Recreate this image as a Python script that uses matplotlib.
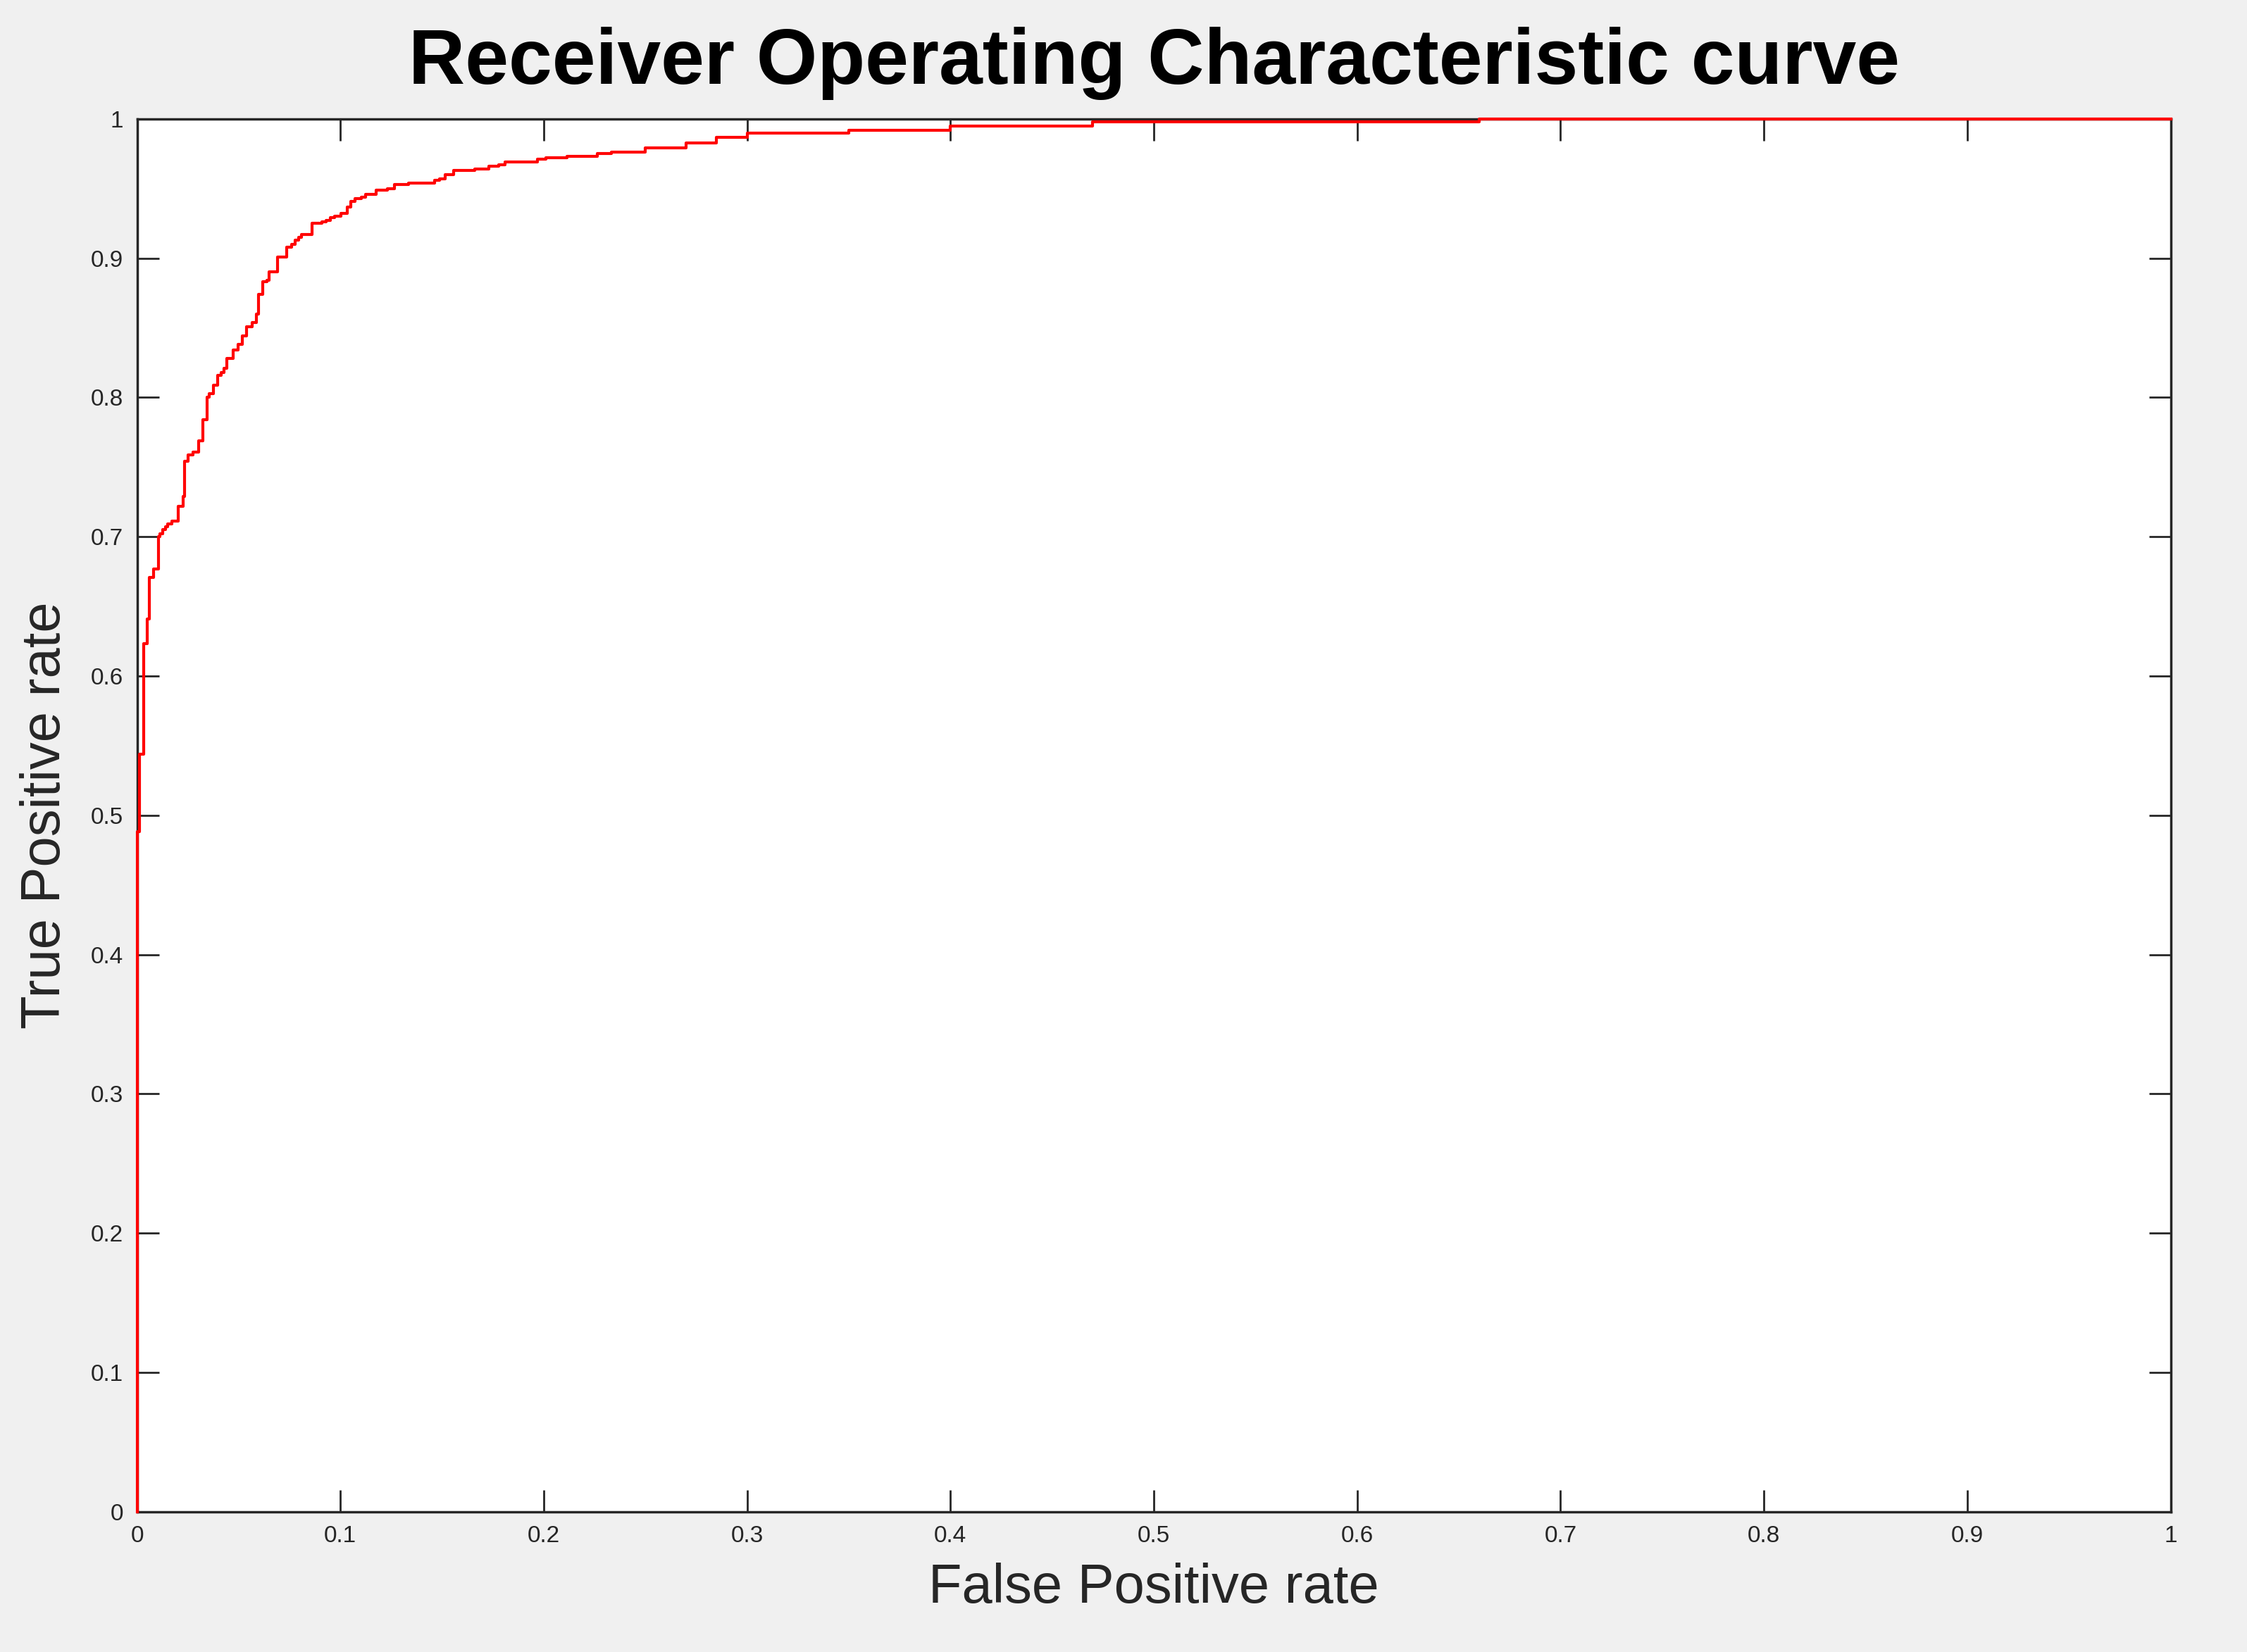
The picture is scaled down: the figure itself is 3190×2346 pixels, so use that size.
import matplotlib
matplotlib.use("Agg")
import matplotlib.pyplot as plt

# ROC curve points (step curve)
fpr = [0.0, 0.0, 0.0012, 0.0031, 0.0051, 0.0062, 0.0082, 0.0104, 0.0113, 0.0125,
       0.0141, 0.0152, 0.0172, 0.0203, 0.0225, 0.0234, 0.0252, 0.0276, 0.0303,
       0.0324, 0.0346, 0.0355, 0.0377, 0.0395, 0.0415, 0.0426, 0.0443, 0.0474,
       0.0496, 0.0516, 0.0538, 0.0567, 0.0586, 0.0598, 0.0617, 0.0640, 0.0648,
       0.0690, 0.0737, 0.0759, 0.0779, 0.0795, 0.0809, 0.0860, 0.0910, 0.0930,
       0.0950, 0.0970, 0.1002, 0.1032, 0.1050, 0.1072, 0.1102, 0.1123, 0.1174,
       0.1232, 0.1264, 0.1334, 0.1464, 0.1489, 0.1515, 0.1557, 0.1659, 0.1729,
       0.1780, 0.1811, 0.1969, 0.2011, 0.2113, 0.2263, 0.2331, 0.25, 0.27,
       0.285, 0.30, 0.35, 0.40, 0.47, 0.66, 1.0]
tpr = [0.0, 0.488, 0.544, 0.623, 0.641, 0.671, 0.677, 0.700, 0.702, 0.705,
       0.707, 0.709, 0.711, 0.722, 0.729, 0.754, 0.759, 0.761, 0.769,
       0.784, 0.800, 0.803, 0.809, 0.816, 0.818, 0.821, 0.828, 0.834,
       0.838, 0.844, 0.851, 0.854, 0.860, 0.874, 0.883, 0.884, 0.890,
       0.901, 0.908, 0.910, 0.913, 0.915, 0.917, 0.925, 0.926, 0.927,
       0.929, 0.930, 0.932, 0.937, 0.941, 0.943, 0.944, 0.946, 0.949,
       0.950, 0.953, 0.954, 0.956, 0.957, 0.960, 0.963, 0.964, 0.966,
       0.967, 0.969, 0.971, 0.972, 0.973, 0.975, 0.976, 0.979, 0.983,
       0.987, 0.990, 0.992, 0.995, 0.998, 1.0, 1.0]

ticks = [0, 0.1, 0.2, 0.3, 0.4, 0.5, 0.6, 0.7, 0.8, 0.9, 1]
tick_labels = ["0", "0.1", "0.2", "0.3", "0.4", "0.5", "0.6", "0.7", "0.8", "0.9", "1"]

plt.rcParams["font.family"] = ["Liberation Sans", "DejaVu Sans"]

fig = plt.figure(figsize=(31.9, 23.46), dpi=100, facecolor="#f0f0f0")
ax = fig.add_axes([0.061, 0.085, 0.905, 0.843])
ax.plot(fpr, tpr, color="red", linewidth=3, drawstyle="steps-post",
        clip_on=False, zorder=5)
ax.set_xlim(0, 1)
ax.set_ylim(0, 1)
ax.set_xticks(ticks)
ax.set_xticklabels(tick_labels)
ax.set_yticks(ticks)
ax.set_yticklabels(tick_labels)
ax.tick_params(direction="in", length=22, width=2, labelsize=24, colors="#262626",
               top=True, right=True, pad=14)
for s in ax.spines.values():
    s.set_linewidth(2.5)
    s.set_color("#262626")
ax.set_xlabel("False Positive rate", fontsize=56, color="#262626", labelpad=16)
ax.set_ylabel("True Positive rate", fontsize=56, color="#262626", labelpad=20)
ax.set_title("Receiver Operating Characteristic curve", fontsize=80,
             fontweight="bold", pad=36)

fig.savefig("out.png", dpi=100, facecolor=fig.get_facecolor())
